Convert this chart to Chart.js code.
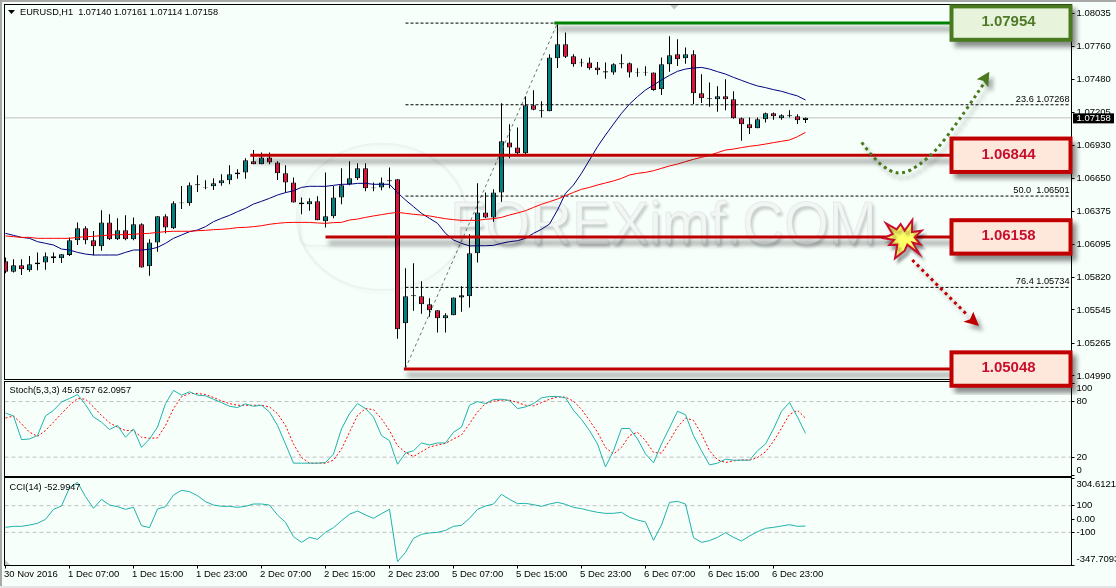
<!DOCTYPE html>
<html><head><meta charset="utf-8">
<script src="https://cdn.jsdelivr.net/npm/chart.js@4"></script>
<style>
html,body{margin:0;padding:0;background:#F7FFFB;width:1116px;height:588px;overflow:hidden}
canvas{position:absolute;left:0;display:block}
#e1{position:absolute;left:0;top:0;width:2px;height:588px;background:#a8a8a8}
#e2{position:absolute;left:0;top:0;width:1116px;height:2px;background:#a8a8a8}
#e3{position:absolute;left:0;top:586px;width:1116px;height:2px;background:#e4e4e4}
</style></head><body>
<div id="e1"></div><div id="e2"></div><div id="e3"></div>
<canvas id="stoch" width="1116" height="105" style="top:376px;z-index:1"></canvas>
<canvas id="cci" width="1116" height="116" style="top:472px;z-index:1"></canvas>
<canvas id="main" width="1116" height="395" style="top:0;z-index:2"></canvas>
<script>
const timeLabels=["30 Nov 2016","1 Dec 07:00","1 Dec 15:00","1 Dec 23:00","2 Dec 07:00","2 Dec 15:00","2 Dec 23:00","5 Dec 07:00","5 Dec 15:00","5 Dec 23:00","6 Dec 07:00","6 Dec 15:00","6 Dec 23:00"];
const priceTicks=[1.08035,1.0776,1.0748,1.07205,1.0693,1.0665,1.06375,1.06095,1.0582,1.05545,1.05265,1.0499];
const stochTicks=[100,80,20,0];
const cciTicks=[304.6121,100,0,-100,-347.7093];
const opens=[1.05953,1.05866,1.05919,1.05877,1.05928,1.05944,1.05995,1.05978,1.06006,1.06129,
1.0623,1.06129,1.06079,1.0628,1.06138,1.06213,1.06138,1.06264,1.05911,1.06112,
1.06331,1.0623,1.0644,1.0644,1.06591,1.06569,1.06583,1.06608,1.06633,1.06684,
1.067,1.06793,1.06768,1.06826,1.06784,1.06692,1.06616,1.06448,1.06432,1.06457,
1.06289,1.06331,1.0649,1.066,1.0665,1.06734,1.06566,1.06574,1.06625,1.06642,
1.05432,1.05659,1.05659,1.05592,1.05541,1.05474,1.05499,1.0565,1.05659,1.0602,
1.06364,1.0632,1.06532,1.06952,1.0691,1.0686,1.07263,1.07213,1.07213,1.07658,
1.07776,1.07675,1.07616,1.07624,1.07582,1.0754,1.0754,1.07608,1.07616,1.07538,
1.07538,1.0754,1.07398,1.07608,1.07692,1.07658,1.07692,1.07364,1.07314,1.07314,
1.07339,1.07314,1.07154,1.07104,1.0707,1.07146,1.07196,1.07154,1.07171,1.07171,
1.0714];
const highs=[1.05986,1.0597,1.0597,1.05998,1.06028,1.06028,1.06028,1.06012,1.06154,1.0628,
1.06247,1.06208,1.06381,1.06348,1.06314,1.06339,1.06322,1.06272,1.06138,1.06331,
1.06348,1.06457,1.06586,1.06616,1.06675,1.06633,1.0665,1.06684,1.06759,1.06726,
1.06818,1.06888,1.06868,1.06868,1.06793,1.06759,1.06658,1.0649,1.06482,1.06499,
1.067,1.06586,1.06734,1.06793,1.06776,1.06776,1.06616,1.06658,1.06742,1.06642,
1.05894,1.05936,1.05785,1.05642,1.05541,1.05516,1.0565,1.05743,1.0618,1.06608,
1.06532,1.06558,1.0728,1.07104,1.07078,1.07339,1.07389,1.07297,1.07692,1.07944,
1.07876,1.07692,1.07655,1.07666,1.07627,1.07624,1.07616,1.07692,1.07624,1.07574,
1.07591,1.0754,1.07666,1.07843,1.07818,1.0775,1.07725,1.07524,1.07456,1.07423,
1.07482,1.07381,1.07162,1.07162,1.07162,1.07204,1.07204,1.07188,1.07221,1.07188,
1.07161];
const lows=[1.05852,1.05858,1.05838,1.05866,1.05877,1.05883,1.05939,1.05939,1.05998,1.0609,
1.06096,1.06003,1.06042,1.06132,1.06132,1.06129,1.06129,1.059,1.05832,1.06034,
1.06188,1.06224,1.06392,1.0642,1.06535,1.06558,1.06552,1.06588,1.066,1.06647,
1.06647,1.06768,1.06768,1.06768,1.06636,1.06532,1.06448,1.06348,1.06378,1.06297,
1.06236,1.06314,1.06432,1.06591,1.06636,1.06541,1.06541,1.06549,1.06566,1.05303,
1.05054,1.05538,1.05513,1.05488,1.05354,1.05354,1.05499,1.0553,1.05564,1.05942,
1.06314,1.06286,1.06454,1.06818,1.06854,1.06854,1.07221,1.0716,1.07213,1.07577,
1.07661,1.07588,1.07588,1.07563,1.07521,1.07487,1.07521,1.07574,1.07496,1.07504,
1.07512,1.07386,1.0735,1.07546,1.07594,1.07613,1.07274,1.07283,1.07252,1.0721,
1.07221,1.07151,1.06966,1.07022,1.0707,1.07118,1.07143,1.07143,1.07162,1.07106,
1.07114];
const closes=[1.05866,1.05919,1.05886,1.05928,1.05944,1.05995,1.05978,1.06012,1.06129,1.0623,
1.06129,1.06079,1.0628,1.06138,1.06213,1.06138,1.06264,1.05902,1.06112,1.06331,
1.06238,1.0644,1.06448,1.06591,1.066,1.06574,1.06608,1.06633,1.06684,1.067,
1.06801,1.06768,1.06826,1.06784,1.06692,1.06616,1.06448,1.06432,1.06457,1.06297,
1.06331,1.0649,1.06591,1.0665,1.06734,1.06566,1.06574,1.06616,1.06633,1.05382,
1.05659,1.05667,1.05592,1.05541,1.05474,1.05499,1.0565,1.05667,1.0602,1.06364,
1.0632,1.06532,1.06961,1.0691,1.0686,1.07263,1.07227,1.07221,1.07666,1.07776,
1.07672,1.07608,1.07624,1.07574,1.07557,1.07549,1.07608,1.07616,1.0754,1.07543,
1.07543,1.07392,1.07608,1.07683,1.0765,1.07692,1.07364,1.07322,1.07322,1.07339,
1.07314,1.07154,1.07104,1.0707,1.07146,1.07196,1.07171,1.07179,1.07179,1.07137,
1.07158];
const maFast=[1.06188,1.06171,1.06154,1.06146,1.06118,1.06104,1.0609,1.06056,1.06048,1.06028,
1.06014,1.06006,1.06006,1.06006,1.06006,1.06028,1.06048,1.06048,1.06054,1.0607,
1.06104,1.06146,1.06174,1.06202,1.06216,1.06244,1.06286,1.06314,1.06339,1.0637,
1.06398,1.06434,1.06457,1.06482,1.0651,1.0653,1.06546,1.06574,1.06583,1.06583,
1.06583,1.06591,1.066,1.066,1.06608,1.06608,1.066,1.066,1.066,1.0653,
1.06468,1.06412,1.06356,1.06314,1.06272,1.06188,1.06132,1.06104,1.06082,1.06084,
1.06084,1.06087,1.06104,1.06118,1.06126,1.06146,1.06188,1.06222,1.06266,1.06384,
1.06524,1.06594,1.06692,1.06804,1.06916,1.07014,1.07106,1.07196,1.07274,1.07336,
1.07392,1.07434,1.07476,1.07515,1.07549,1.07568,1.07577,1.07582,1.07568,1.07546,
1.07526,1.07498,1.07473,1.07448,1.07426,1.07412,1.07395,1.07381,1.07361,1.07342,
1.07308];
const maSlow=[1.06166,1.0616,1.06154,1.06154,1.06146,1.06146,1.06146,1.06146,1.06146,1.06154,
1.0616,1.06163,1.06168,1.06174,1.06177,1.06177,1.0618,1.06185,1.06188,1.06196,
1.06202,1.06205,1.06205,1.06205,1.0621,1.06213,1.06219,1.06222,1.06227,1.06236,
1.06238,1.06244,1.06252,1.06264,1.06272,1.06278,1.0628,1.0628,1.0628,1.06275,
1.06272,1.06278,1.0628,1.063,1.06308,1.06322,1.06334,1.06345,1.06356,1.06364,
1.06356,1.06348,1.06342,1.06334,1.06322,1.06311,1.06303,1.06297,1.06297,1.06297,
1.06306,1.06311,1.06322,1.06342,1.06359,1.06378,1.06406,1.06432,1.06454,1.06476,
1.06504,1.06532,1.06558,1.06574,1.06594,1.06611,1.06628,1.0665,1.06678,1.06692,
1.067,1.06714,1.06734,1.06754,1.0677,1.0679,1.0681,1.06826,1.06843,1.06866,
1.06888,1.06896,1.06908,1.06919,1.06927,1.06938,1.0695,1.06961,1.06972,1.07,
1.07036];
const stochMain=[67.6,64.4,38.9,39.6,43.3,64.4,70.5,79.6,83.3,87.6,
76.7,63.3,57.8,49.8,54.2,41.5,50.5,30.5,39.6,52.4,
77.8,92,86.9,90.5,86.9,86.2,82.5,78.9,74.9,73.5,
77.5,74.9,76,68.7,54.2,34.2,13.5,13.5,13.5,13.5,
14.2,23.3,50.5,66.9,77.8,72.4,63.3,43.3,37.8,12.4,
24.4,26.9,35.3,33.1,35.3,35.3,46.9,52.4,76,80,
77.8,82.2,82.5,81.1,72.4,74.2,77.8,84,85.5,85.5,
84,70.5,60.7,48.7,34.2,9.5,26.9,50.9,50.9,39.6,
23.6,13.8,34.2,51.6,69.5,65.8,43.3,26.9,11.6,13.5,
17.8,16.7,16.7,16.7,26.9,34.2,50.5,69.5,78.9,63.3,
45.68];
const stochSignal=[62.2,64.4,56,46.9,42.5,48.7,57.8,66.9,76,83.3,
82.5,74.2,65.1,57.1,52.4,48.7,48.7,41.5,40.4,40.7,
54.2,72.4,85.1,88.7,88.7,87.6,84.4,80.7,77.8,76,
76,76,76,74.2,66.9,54.2,34.2,19.6,13.5,13.5,
13.5,16.7,28.7,46.9,65.1,72.4,71.3,61.5,48.7,32.4,
25.1,20.7,25.8,30.9,33.1,34.9,39.6,44,56,68.7,
77.8,80.4,81.5,81.5,78.9,76,75.3,78.9,82.5,85.1,
84.7,80.4,71.6,59.6,46.9,30.5,23.3,30.5,43.3,46.9,
37.8,25.1,24.4,37.8,52.4,62.2,59.6,45.1,26.9,17.1,
14.2,16,17.1,16.7,19.6,25.8,37.1,51.3,66.2,70.5,
62.1];
const cciValues=[-62.5,-55,-55,-45,-32.5,-2.5,72.5,97.5,235,275,
167.5,80,147.5,105,92.5,72.5,87.5,-50,-65,75,
92.5,180,215,205,175,130,105,95,95,87.5,
95,112.5,112.5,105,30,-25,-132.5,-175,-137.5,-152.5,
-100,-65,-12.5,35,60,30,5,40,72.5,-320,
-250,-145,-115,-105,-100,-85,-55,-47.5,5,72.5,
97.5,112.5,185,147.5,115,117.5,107.5,95,112.5,125,
110,87.5,77.5,62.5,50,42.5,42.5,50,12.5,-7.5,
-22.5,-160,-45,125,132.5,112.5,-140,-175,-162.5,-137.5,
-102.5,-137.5,-165,-127.5,-95,-70,-62.5,-52.5,-42.5,-55,
-53];
const lastPrice=1.07158;
const resistanceLevel=[1.07954];
const supportLevels=[1.06844,1.06158,1.05048];
const fibLevels=[1.07268,1.06501,1.05734];
const fibNames=["23.6 1.07268","50.0  1.06501","76.4 1.05734"];
const swingLow=1.05054, swingHigh=1.07954;

const FONT='"Liberation Sans", Arial, sans-serif';
const XMIN=-0.125, XMAX=133.25;
const UP='#008080', DOWN='#DC143C', LVLRED='#C00000', LVLGREEN='#008000', BOXGREEN='#4A7A1E';
const px2x=p=>(p-5.5)/8;
const seg=(x0,y0,x1,y1)=>[{x:x0,y:y0},{x:x1,y:y1}];
const series=a=>a.map((v,i)=>({x:i,y:v}));
const lineDs=(data,color,extra)=>Object.assign({type:'line',data,borderColor:color,borderWidth:1,pointRadius:0,tension:0,fill:false,order:30},extra||{});

function yAxis(min,max,ticks,label){
  return {position:'right',min,max,
    grid:{display:true,drawOnChartArea:false,drawTicks:true,tickLength:3,color:'#000',tickColor:'#000'},
    border:{display:true,color:'#000'},
    afterBuildTicks:s=>{s.ticks=ticks.map(v=>({value:v}));},
    afterFit:s=>{s.width=44.5;s.paddingTop=0;s.paddingBottom=0;},
    ticks:{autoSkip:false,padding:2,color:'#000',font:{family:FONT,size:9.5},callback:label}};
}
function xAxis(show){
  return {type:'linear',display:show,offset:false,min:XMIN,max:XMAX,
    grid:{display:true,drawOnChartArea:false,drawTicks:true,tickLength:3,color:'#000'},
    border:{display:true,color:'#000'},
    afterBuildTicks:s=>{s.ticks=timeLabels.map((_,k)=>({value:k*8}));},
    afterFit:s=>{if(show){s.height=22.5;}s.paddingLeft=0;s.paddingRight=0;},
    ticks:{autoSkip:false,maxRotation:0,minRotation:0,align:'start',labelOffset:-1.5,padding:0,color:'#000',
      font:{family:FONT,size:9.5},callback:v=>timeLabels[v/8]}};
}
const shadowPlugin={id:'shadowDs',
  beforeDatasetDraw(c,a){const d=c.data.datasets[a.index];if(d.dropShadow){const x=c.ctx;x.save();x.shadowColor='rgba(0,0,0,0.5)';x.shadowOffsetX=3;x.shadowOffsetY=6;x.shadowBlur=5;}},
  afterDatasetDraw(c,a){const d=c.data.datasets[a.index];if(d.dropShadow){c.ctx.restore();}}};
function frame(c){const x=c.ctx,A=c.chartArea;x.save();x.strokeStyle='#000';x.lineWidth=1;x.strokeRect(A.left,A.top,A.right-A.left,A.bottom-A.top);x.restore();}
function label(x,t,px,py,font,color,al){x.save();x.font=font||('9.2px '+FONT);x.fillStyle=color||'#000';x.textAlign=al||'left';x.textBaseline='middle';x.fillText(t,px,py);x.restore();}
function smooth(x,P){x.beginPath();x.moveTo(P[0][0],P[0][1]);for(let i=1;i<P.length-1;i++){const m=[(P[i][0]+P[i+1][0])/2,(P[i][1]+P[i+1][1])/2];x.quadraticCurveTo(P[i][0],P[i][1],m[0],m[1]);}const L=P[P.length-1];x.lineTo(L[0],L[1]);}
function poly(x,P){x.beginPath();P.forEach((p,i)=>i?x.lineTo(p[0],p[1]):x.moveTo(p[0],p[1]));x.closePath();}
function setShadow(x,a,ox,oy,b){x.shadowColor='rgba(0,0,0,'+a+')';x.shadowOffsetX=ox;x.shadowOffsetY=oy;x.shadowBlur=b;}

const watermark={id:'watermark',beforeDatasetsDraw(c){
  const x=c.ctx;x.save();
  x.strokeStyle='rgba(225,233,231,0.45)';x.lineWidth=2.5;setShadow(x,0.05,2,3,3);
  x.beginPath();x.ellipse(382,217,85,73,0,0,Math.PI*2);x.stroke();
  x.beginPath();x.moveTo(300,214);x.lineTo(300,236);x.quadraticCurveTo(300,246,312,246);x.lineTo(450,246);x.stroke();
  const s='FOREXimf.COM';x.font='62px '+FONT;const w=x.measureText(s).width;
  x.translate(450,244);x.scale(427/w,1);
  setShadow(x,0.2,2,3,3);x.fillStyle='#F2F7F5';x.fillText(s,0,0);
  x.shadowColor='transparent';x.strokeStyle='rgba(200,207,205,0.35)';x.lineWidth=1;x.strokeText(s,0,0);
  x.restore();
}};
function drawBox(x,cy,text,border,fill,color){
  x.save();setShadow(x,0.45,4,5,5);x.fillStyle=border;x.fillRect(949.5,cy-18.7,123,37.4);x.restore();
  x.save();x.fillStyle=fill;x.fillRect(953.5,cy-14.7,115,29.4);x.restore();
  label(x,text,1008.5,cy-0.8,'bold 15px '+FONT,color,'center');
}
const overlay={id:'overlay',afterDraw(c){
  const x=c.ctx,Y=c.scales.y;
  frame(c);
  x.save();
  x.fillStyle='#c4c4c4';poly(x,[[670,5],[678.5,5],[674.2,9.5]]);x.fill();
  x.fillStyle='#000';poly(x,[[8,10],[15,10],[11.5,14]]);x.fill();
  x.restore();
  label(x,'EURUSD,H1  1.07140 1.07161 1.07114 1.07158',20,12.5);
  fibLevels.forEach((v,i)=>label(x,fibNames[i],1069.5,Y.getPixelForValue(v)-5.8,null,'#000','right'));
  x.save();setShadow(x,0.35,4,5,4);x.strokeStyle=BOXGREEN;x.lineWidth=3;x.setLineDash([3,3.6]);
  smooth(x,[[861.7,142.3],[873.3,158.3],[890,171.7],[903.3,173.8],[918.3,166],[936.7,150],[956.7,123.3],[971.7,101.7],[985,81.7]]);x.stroke();
  x.setLineDash([]);x.fillStyle=BOXGREEN;poly(x,[[989.3,71.7],[976.7,79.3],[983,80.7],[988.3,87.3]]);x.fill();x.restore();
  x.save();setShadow(x,0.3,3,4,3);x.fillStyle='#FFFF66';x.strokeStyle='#C8102E';x.lineWidth=2;x.miterLimit=12;
  const b=[[18,40],[50,58],[62,42],[74,62],[97,30],[96,66],[125,62],[104,82],[122,104],[98,98],[118,132],[82,104],[74,122],[45,145],[52,104],[28,105],[42,90],[12,85],[38,72]];
  poly(x,b.map(p=>[880+p[0]/3,210+p[1]/3]));x.fill();x.stroke();x.restore();
  x.save();setShadow(x,0.35,4,5,4);x.strokeStyle=LVLRED;x.lineWidth=3;x.setLineDash([3,3.6]);
  x.beginPath();x.moveTo(912.3,260);x.lineTo(968.3,316);x.stroke();
  x.setLineDash([]);x.fillStyle=LVLRED;poly(x,[[979,326],[963.3,321.7],[970,319.3],[973.3,311.7]]);x.fill();x.restore();
  resistanceLevel.forEach(v=>drawBox(x,Y.getPixelForValue(v),v.toFixed(5),BOXGREEN,'#E8F3DC','#4E7A27'));
  supportLevels.forEach(v=>drawBox(x,Y.getPixelForValue(v),v.toFixed(5),LVLRED,'#FEE8DC','#C8102E'));
  const py=Y.getPixelForValue(lastPrice);
  x.save();x.fillStyle='#000';x.fillRect(1073,py-4.5,41,10);x.restore();
  label(x,lastPrice.toFixed(5),1076.5,py+0.5,'9.5px '+FONT,'#fff');
}};
const stochPanel={id:'stochPanel',afterDraw(c){frame(c);label(c.ctx,'Stoch(5,3,3) 45.6757 62.0957',9.5,14);}};
const cciPanel={id:'cciPanel',afterDraw(c){frame(c);const x=c.ctx;label(x,'CCI(14) -52.9947',9.5,15);
  x.save();x.fillStyle='#c4c4c4';poly(x,[[5,88],[5,93],[10,93]]);x.fill();x.restore();}};

const i0=px2x(4.5), iEnd=px2x(1071.5), iBox=px2x(950);
const candleColors=closes.map((v,i)=>v>=opens[i]?UP:DOWN);
const mainDatasets=[
  lineDs(seg(i0,lastPrice,iEnd,lastPrice),'#C0C0C0',{order:60}),
  {type:'bar',data:series(lows).map((p,i)=>({x:i,y:[p.y,highs[i]]})),backgroundColor:'#000',barThickness:1,grouped:false,inflateAmount:0,borderWidth:0,order:50},
  {type:'bar',data:series(opens).map((p,i)=>({x:i,y:[p.y,closes[i]]})),backgroundColor:candleColors,borderColor:'#000',borderWidth:1,borderSkipped:false,barThickness:5,grouped:false,inflateAmount:0,order:40},
  lineDs(series(maSlow),'#FF0000'),
  lineDs(series(maFast),'#000080'),
  lineDs(seg(50,swingLow,69,swingHigh),'#707070',{borderDash:[3,3],order:36}),
  lineDs(seg(50,swingHigh,69,swingHigh),'#000',{borderDash:[3,2],order:35}),
  ...fibLevels.map(v=>lineDs(seg(50,v,px2x(1070),v),'#000',{borderDash:[3,2],order:35})),
  lineDs(seg(68.6,resistanceLevel[0],iBox,resistanceLevel[0]),LVLGREEN,{borderWidth:3,dropShadow:true,order:20}),
  lineDs(seg(30.6,supportLevels[0],iBox,supportLevels[0]),LVLRED,{borderWidth:3,dropShadow:true,order:20}),
  lineDs(seg(40,supportLevels[1],iBox,supportLevels[1]),LVLRED,{borderWidth:3,dropShadow:true,order:20}),
  lineDs(seg(49.8,supportLevels[2],iBox,supportLevels[2]),LVLRED,{borderWidth:3,dropShadow:true,order:20})
];
const base=(top,bottom)=>({animation:false,responsive:false,maintainAspectRatio:false,devicePixelRatio:1,
  layout:{padding:{left:4.5,top,bottom,right:0}},plugins:{legend:{display:false},tooltip:{enabled:false}},events:[]});

new Chart(document.getElementById('main'),{type:'bar',data:{datasets:mainDatasets},
  options:Object.assign(base(4.5,15.5),{scales:{x:xAxis(false),y:yAxis(1.049602,1.081102,priceTicks,v=>v.toFixed(5))}}),
  plugins:[shadowPlugin,watermark,overlay]});

const stochLabel=v=>v===100?['','100']:v===0?['0','']:String(v);
new Chart(document.getElementById('stoch'),{type:'line',data:{datasets:[
  lineDs(seg(i0,80,iEnd,80),'#C0C0C0',{borderDash:[4,3],order:60}),
  lineDs(seg(i0,20,iEnd,20),'#C0C0C0',{borderDash:[4,3],order:60}),
  lineDs(series(stochSignal),'#FF0000',{borderDash:[2,2],order:31}),
  lineDs(series(stochMain),'#20B2AA',{order:30})]},
  options:Object.assign(base(5.5,4.5),{scales:{x:xAxis(false),y:yAxis(-0.9,101.64,stochTicks,stochLabel)}}),
  plugins:[stochPanel]});

const cciLabel=v=>v===304.6121?['','304.6121']:v===-347.7093?['-347.7093','']:v===0?'0.00':String(v);
new Chart(document.getElementById('cci'),{type:'line',data:{datasets:[
  lineDs(seg(i0,100,iEnd,100),'#C0C0C0',{borderDash:[4,3],order:60}),
  lineDs(seg(i0,-100,iEnd,-100),'#C0C0C0',{borderDash:[4,3],order:60}),
  lineDs(series(cciValues),'#20B2AA',{order:30})]},
  options:Object.assign(base(5.5,0),{scales:{x:xAxis(true),y:yAxis(-348.75,311.25,cciTicks,cciLabel)}}),
  plugins:[cciPanel]});
</script>
</body></html>
